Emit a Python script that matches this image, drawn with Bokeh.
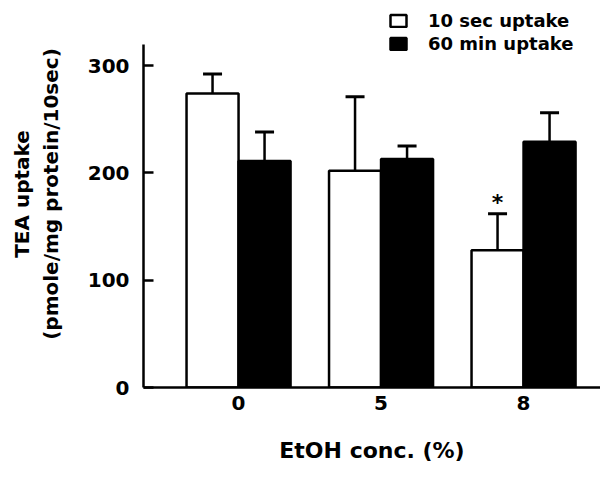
from bokeh.plotting import figure
from bokeh.models import (ColumnDataSource, Whisker, TeeHead, Legend, LegendItem,
                          FixedTicker, Range1d)
from bokeh.core.properties import value
from bokeh.embed import file_html
from bokeh.resources import INLINE

# ---- data ----
categories = ["0", "5", "8"]
uptake_10sec = [274, 202, 128]
err_10sec = [18, 69, 34]
uptake_60min = [211, 213, 229]
err_60min = [27, 12, 27]
significance = ["", "", "*"]
y_ticks = [0, 100, 200, 300]

FONT = "DejaVu Sans"
pos = list(range(len(categories)))
off = 0.1825
bw = 0.365

src = ColumnDataSource(dict(
    x10=[x - off for x in pos],
    x60=[x + off for x in pos],
    u10=uptake_10sec,
    u60=uptake_60min,
    hi10=[u + e for u, e in zip(uptake_10sec, err_10sec)],
    hi60=[u + e for u, e in zip(uptake_60min, err_60min)],
    sig=significance,
))

p = figure(width=600, height=465,
           x_range=Range1d(-0.667, 2.54), y_range=Range1d(0, 360.6),
           output_backend="svg", toolbar_location=None,
           min_border_left=143, min_border_right=0,
           min_border_top=0, min_border_bottom=78)

r10 = p.vbar(x="x10", top="u10", bottom=0, width=bw, source=src,
             fill_color="white", line_color="black", line_width=2.5)
r60 = p.vbar(x="x60", top="u60", bottom=0, width=bw, source=src,
             fill_color="black", line_color="black", line_width=2.5)

for base, lo, hi in (("x10", "u10", "hi10"), ("x60", "u60", "hi60")):
    w = Whisker(source=src, base=base, lower=lo, upper=hi, dimension="height",
                line_color="black", line_width=2.5,
                upper_head=TeeHead(size=19, line_width=3, line_color="black"),
                lower_head=None)
    p.add_layout(w)

p.text(x="x10", y="hi10", text="sig", source=src,
       text_font=value(FONT), text_font_style="bold", text_font_size="22px",
       text_align="center", text_baseline="alphabetic", text_color="black",
       y_offset=-11)

legend = Legend(items=[LegendItem(label="10 sec uptake", renderers=[r10]),
                       LegendItem(label="60 min uptake", renderers=[r60])],
                location=(245, 333), orientation="vertical",
                glyph_width=20, glyph_height=15, label_standoff=20,
                spacing=2, padding=0, margin=0, label_height=20,
                border_line_color=None, background_fill_alpha=0,
                label_text_font=FONT, label_text_font_style="bold",
                label_text_font_size="18px", label_text_color="black")
p.add_layout(legend)

# axes
xa = p.xaxis[0]
xa.ticker = FixedTicker(ticks=pos)
xa.major_label_overrides = {i: c for i, c in zip(pos, categories)}
xa.major_tick_in = 0
xa.major_tick_out = 0
xa.minor_tick_in = 0
xa.minor_tick_out = 0
xa.axis_line_width = 2.5
xa.major_label_standoff = 8
xa.major_label_text_font = FONT
xa.major_label_text_font_style = "bold"
xa.major_label_text_font_size = "20px"
xa.major_label_text_color = "black"
xa.axis_label = "EtOH conc. (%)"
xa.axis_label_text_font = FONT
xa.axis_label_text_font_style = "bold"
xa.axis_label_text_font_size = "22px"
xa.axis_label_text_color = "black"
xa.axis_label_standoff = 25

ya = p.yaxis[0]
ya.ticker = FixedTicker(ticks=y_ticks)
ya.bounds = (0, 320)
ya.major_tick_in = 10
ya.major_tick_out = 0
ya.minor_tick_in = 0
ya.minor_tick_out = 0
ya.axis_line_width = 2.5
ya.major_tick_line_width = 2.5
ya.major_label_standoff = 14
ya.major_label_text_font = FONT
ya.major_label_text_font_style = "bold"
ya.major_label_text_font_size = "20px"
ya.major_label_text_color = "black"
ya.axis_label = "TEA uptake\n(pmole/mg protein/10sec)"
ya.axis_label_text_font = FONT
ya.axis_label_text_font_style = "bold"
ya.axis_label_text_font_size = "20px"
ya.axis_label_text_color = "black"
ya.axis_label_standoff = 22

p.grid.visible = False
p.outline_line_color = None

open("out.html", "w").write(file_html(p, INLINE))
